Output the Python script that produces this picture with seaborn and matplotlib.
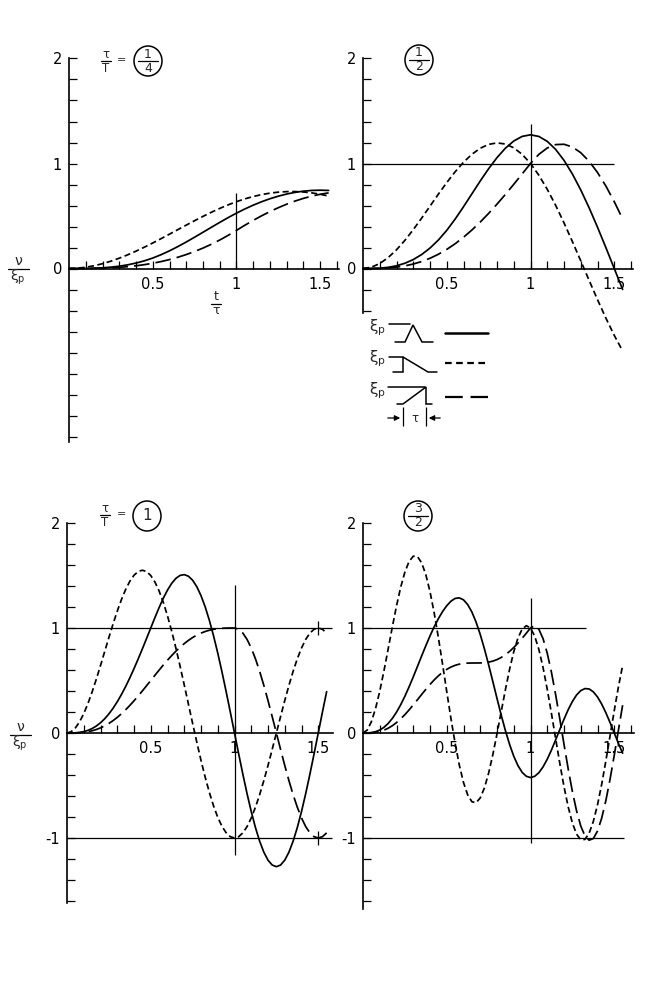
import numpy as np
import pandas as pd
import matplotlib
matplotlib.use("Agg")
import matplotlib.pyplot as plt
import seaborn as sns
from matplotlib.patches import Ellipse

sns.set_style("white")
plt.rcParams["font.family"] = ["DejaVu Sans"]
plt.rcParams["mathtext.fontset"] = "dejavusans"

# ---- data: response v/xi_p against t/tau ----
t_coarse = [0.00, 0.05, 0.10, 0.15, 0.20, 0.25, 0.30, 0.35, 0.40, 0.45,
            0.50, 0.55, 0.60, 0.65, 0.70, 0.75, 0.80, 0.85, 0.90, 0.95,
            1.00, 1.05, 1.10, 1.15, 1.20, 1.25, 1.30, 1.35, 1.40, 1.45,
            1.50, 1.55]
t_fine = [0.000, 0.025, 0.050, 0.075, 0.100, 0.125, 0.150, 0.175, 0.200, 0.225,
          0.250, 0.275, 0.300, 0.325, 0.350, 0.375, 0.400, 0.425, 0.450, 0.475,
          0.500, 0.525, 0.550, 0.575, 0.600, 0.625, 0.650, 0.675, 0.700, 0.725,
          0.750, 0.775, 0.800, 0.825, 0.850, 0.875, 0.900, 0.925, 0.950, 0.975,
          1.000, 1.025, 1.050, 1.075, 1.100, 1.125, 1.150, 1.175, 1.200, 1.225,
          1.250, 1.275, 1.300, 1.325, 1.350, 1.375, 1.400, 1.425, 1.450, 1.475,
          1.500, 1.525, 1.550]

# tau/T = 1/4
q_sym = [0, 0.0001, 0.0008, 0.0028, 0.0066, 0.0128, 0.0220, 0.0348, 0.0516, 0.0731,
         0.0997, 0.1316, 0.1683, 0.2089, 0.2524, 0.2982, 0.3452, 0.3925, 0.4392, 0.4845,
         0.5274, 0.5671, 0.6034, 0.6359, 0.6646, 0.6890, 0.7093, 0.7252, 0.7366, 0.7435,
         0.7458, 0.7435]
q_decay = [0, 0.0030, 0.0119, 0.0263, 0.0457, 0.0697, 0.0980, 0.1300, 0.1652, 0.2030,
           0.2430, 0.2846, 0.3272, 0.3703, 0.4132, 0.4555, 0.4964, 0.5356, 0.5723, 0.6062,
           0.6366, 0.6632, 0.6856, 0.7038, 0.7177, 0.7272, 0.7322, 0.7327, 0.7286, 0.7201,
           0.7071, 0.6898]
q_rise = [0, 0.0001, 0.0004, 0.0014, 0.0033, 0.0064, 0.0110, 0.0174, 0.0258, 0.0366,
          0.0499, 0.0659, 0.0850, 0.1072, 0.1328, 0.1619, 0.1946, 0.2310, 0.2712, 0.3154,
          0.3634, 0.4122, 0.4585, 0.5020, 0.5423, 0.5794, 0.6128, 0.6425, 0.6682, 0.6898,
          0.7071, 0.7201]

# tau/T = 1/2
h_sym = [0, 0.0004, 0.0033, 0.0110, 0.0258, 0.0498, 0.0850, 0.1328, 0.1945, 0.2712,
         0.3634, 0.4704, 0.5880, 0.7108, 0.8334, 0.9502, 1.0559, 1.1455, 1.2142, 1.2580,
         1.2732, 1.2576, 1.2109, 1.1345, 1.0301, 0.9003, 0.7484, 0.5780, 0.3935, 0.1992,
         0.0, -0.1992]
h_decay = [0, 0.0121, 0.0473, 0.1035, 0.1781, 0.2680, 0.3697, 0.4796, 0.5937, 0.7080,
           0.8183, 0.9208, 1.0118, 1.0876, 1.1453, 1.1822, 1.1961, 1.1855, 1.1494, 1.0875,
           1.0, 0.8881, 0.7543, 0.6020, 0.4348, 0.2570, 0.0728, -0.1132, -0.2964, -0.4724,
           -0.6366, -0.7852]
h_rise = [0, 0.0002, 0.0016, 0.0055, 0.0129, 0.0249, 0.0425, 0.0664, 0.0973, 0.1356,
          0.1817, 0.2356, 0.2973, 0.3664, 0.4425, 0.5249, 0.6129, 0.7055, 0.8016, 0.9002,
          1.0, 1.0873, 1.1478, 1.1800, 1.1832, 1.1573, 1.1028, 1.0212, 0.9145, 0.7852,
          0.6366, 0.4724]

# tau/T = 1
o_sym = [0, 0.0002, 0.0016, 0.0055, 0.0129, 0.0249, 0.0425, 0.0664, 0.0973, 0.1356,
         0.1817, 0.2356, 0.2973, 0.3664, 0.4425, 0.5249, 0.6129, 0.7055, 0.8016, 0.9002,
         1.0, 1.0994, 1.1951, 1.2835, 1.3613, 1.4252, 1.4726, 1.5009, 1.5082, 1.4932,
         1.4549, 1.3932, 1.3082, 1.2009, 1.0726, 0.9252, 0.7613, 0.5835, 0.3951, 0.1994,
         0.0, -0.1992, -0.3934, -0.5780, -0.7484, -0.9003, -1.0301, -1.1345, -1.2110, -1.2576,
         -1.2732, -1.2576, -1.2110, -1.1345, -1.0301, -0.9003, -0.7484, -0.5780, -0.3934, -0.1992,
         0.0, 0.1992, 0.3934]
o_decay = [0, 0.0122, 0.0481, 0.1062, 0.1845, 0.2804, 0.3910, 0.5128, 0.6424, 0.7758,
           0.9092, 1.0386, 1.1604, 1.2708, 1.3666, 1.4447, 1.5026, 1.5383, 1.5502, 1.5376,
           1.5, 1.4378, 1.3519, 1.2438, 1.1155, 0.9696, 0.8090, 0.6372, 0.4577, 0.2742,
           0.0909, -0.0886, -0.2604, -0.4208, -0.5666, -0.6947, -0.8026, -0.8883, -0.9502, -0.9876,
           -1.0, -0.9877, -0.9511, -0.8910, -0.8090, -0.7071, -0.5878, -0.4540, -0.3090, -0.1564,
           0.0, 0.1564, 0.3090, 0.4540, 0.5878, 0.7071, 0.8090, 0.8910, 0.9511, 0.9877,
           1.0, 0.9877, 0.9511]
o_rise = [0, 0.0001, 0.0008, 0.0028, 0.0065, 0.0125, 0.0212, 0.0332, 0.0486, 0.0678,
          0.0909, 0.1178, 0.1486, 0.1832, 0.2212, 0.2625, 0.3065, 0.3528, 0.4008, 0.4501,
          0.5, 0.5499, 0.5992, 0.6473, 0.6936, 0.7375, 0.7788, 0.8168, 0.8514, 0.8822,
          0.9092, 0.9322, 0.9514, 0.9668, 0.9788, 0.9875, 0.9936, 0.9973, 0.9992, 0.9999,
          1.0, 0.9877, 0.9511, 0.8910, 0.8090, 0.7071, 0.5878, 0.4540, 0.3090, 0.1564,
          0.0, -0.1564, -0.3090, -0.4540, -0.5878, -0.7071, -0.8090, -0.8910, -0.9511, -0.9877,
          -1.0, -0.9877, -0.9511]

# tau/T = 3/2
t_sym = [0, 0.0005, 0.0037, 0.0122, 0.0283, 0.0539, 0.0904, 0.1384, 0.1982, 0.2691,
         0.3499, 0.4391, 0.5344, 0.6334, 0.7332, 0.8312, 0.9247, 1.0114, 1.0891, 1.1563,
         1.2122, 1.2554, 1.2818, 1.2870, 1.2681, 1.2233, 1.1524, 1.0565, 0.9381, 0.8010,
         0.6501, 0.4908, 0.3293, 0.1717, 0.0240, -0.1085, -0.2212, -0.3105, -0.3745, -0.4122,
         -0.4244, -0.4127, -0.3782, -0.3227, -0.2495, -0.1624, -0.0664, 0.0333, 0.1312, 0.2218,
         0.3001, 0.3619, 0.4036, 0.4231, 0.4192, 0.3921, 0.3434, 0.2756, 0.1927, 0.0991,
         0.0, -0.0991, -0.1927]
t_decay = [0, 0.0274, 0.1072, 0.2335, 0.3981, 0.5904, 0.7984, 1.0092, 1.2099, 1.3880,
           1.5321, 1.6331, 1.6839, 1.6802, 1.6211, 1.5083, 1.3467, 1.1438, 0.9095, 0.6553,
           0.3939, 0.1384, -0.0985, -0.3051, -0.4714, -0.5895, -0.6543, -0.6636, -0.6183, -0.5222,
           -0.3821, -0.2070, -0.0081, 0.2023, 0.4112, 0.6057, 0.7736, 0.9043, 0.9892, 1.0221,
           1.0, 0.9228, 0.7947, 0.6226, 0.4161, 0.1866, -0.0532, -0.2900, -0.5108, -0.7034,
           -0.8572, -0.9635, -1.0166, -1.0136, -0.9545, -0.8427, -0.6843, -0.4881, -0.2649, -0.0271,
           0.2122, 0.4398, 0.6431]
t_rise = [0, 0.0002, 0.0018, 0.0061, 0.0142, 0.0270, 0.0452, 0.0692, 0.0991, 0.1345,
          0.1750, 0.2196, 0.2672, 0.3167, 0.3666, 0.4156, 0.4624, 0.5057, 0.5445, 0.5782,
          0.6061, 0.6282, 0.6445, 0.6557, 0.6624, 0.6656, 0.6666, 0.6667, 0.6672, 0.6696,
          0.6750, 0.6845, 0.6991, 0.7192, 0.7452, 0.7770, 0.8142, 0.8561, 0.9018, 0.9502,
          1.0, 1.0219, 0.9874, 0.8982, 0.7595, 0.5787, 0.3660, 0.1331, -0.1072, -0.3416,
          -0.5571, -0.7418, -0.8855, -0.9803, -1.0209, -1.0051, -0.9338, -0.8108, -0.6431, -0.4398,
          -0.2122, 0.0271, 0.2649]

x_labels = ["0.5", "1", "1.5"]

W, H = 649, 983
XS, YS = 167.5, 105.0   # pixels per unit on the x and y axes

fig = plt.figure(figsize=(W / 100, H / 100), dpi=100)

# overlay in pixel space for lettering and the key
key = fig.add_axes([0, 0, 1, 1], zorder=10)
key.set_xlim(0, W)
key.set_ylim(H, 0)
key.axis("off")
key.patch.set_alpha(0)

DASHES = {"sym": "", "decay": (3.5, 2.0), "rise": (9.0, 3.5)}
XI_P = r"$\mathregular{ξ_p}$"


def frac(x, y, top, bottom, size=9, bar=10, gap=7):
    key.text(x, y - gap, top, fontsize=size, ha="center", va="center")
    key.plot([x - bar / 2, x + bar / 2], [y, y], color="k", lw=0.9)
    key.text(x, y + gap, bottom, fontsize=size, ha="center", va="center")


def ring(x, y, w=28, h=30):
    key.add_patch(Ellipse((x, y), w, h, fill=False, lw=1.1, color="k"))


def make_panel(x0, y0, tt, sym, decay, rise, ybot, xend, yticks):
    xl, yl = (-0.06, 1.72), (-1.75, 2.15)
    left = x0 + xl[0] * XS
    top = y0 - yl[1] * YS
    w = (xl[1] - xl[0]) * XS
    h = (yl[1] - yl[0]) * YS
    ax = fig.add_axes([left / W, 1 - (top + h) / H, w / W, h / H])
    ax.patch.set_alpha(0)

    n = len(tt)
    df = pd.DataFrame({"s": tt * 3, "v": sym + decay + rise,
                       "pulse": ["sym"] * n + ["decay"] * n + ["rise"] * n})
    sns.lineplot(data=df, x="s", y="v", style="pulse", dashes=DASHES, color="black",
                 linewidth=1.25, legend=False, errorbar=None, ax=ax)
    ax.set_xlabel("")
    ax.set_ylabel("")
    ax.set_xlim(xl)
    ax.set_ylim(yl)

    for sp in ["top", "right"]:
        ax.spines[sp].set_visible(False)
    ax.spines["left"].set_position(("data", 0))
    ax.spines["bottom"].set_position(("data", 0))
    ax.spines["left"].set_bounds(ybot, 2.0)
    ax.spines["bottom"].set_bounds(0, xend)
    for sp in ["left", "bottom"]:
        ax.spines[sp].set_linewidth(1.2)
        ax.spines[sp].set_color("k")

    ax.set_xticks([0.5, 1.0, 1.5])
    ax.set_xticklabels(x_labels)
    ax.set_xticks([m / 10 for m in range(1, 17) if m / 10 <= xend + 1e-9], minor=True)
    ax.set_yticks(yticks)
    ax.set_yticklabels([str(v) for v in yticks])
    ax.set_yticks([m / 5 for m in range(-8, 11) if m / 5 >= ybot - 1e-9], minor=True)
    ax.tick_params(axis="both", which="both", direction="in", length=6, width=0.9,
                   color="k", labelsize=10.5, labelcolor="k", bottom=True, left=True)
    ax.tick_params(axis="x", pad=6)
    ax.tick_params(axis="y", pad=5)
    return ax


# ---- panel tau/T = 1/4 ----
ax1 = make_panel(69, 268.5, t_coarse, q_sym, q_decay, q_rise, -1.65, 1.61, [0, 1, 2])
ax1.vlines(1.0, 0, 0.72, color="k", lw=0.9)
frac(106, 61, "τ", "T", size=8.5, bar=10)
key.text(122, 60, "=", fontsize=8, ha="center", va="center")
ring(148, 61)
frac(148, 61, "1", "4", size=9, bar=20)
frac(18, 269, "ν", XI_P, size=10, bar=21, gap=8)
frac(216, 304, "t", "τ", size=9, bar=10)

# ---- panel tau/T = 1/2 ----
ax2 = make_panel(363, 268.5, t_coarse, h_sym, h_decay, h_rise, -0.42, 1.61, [0, 1, 2])
ax2.hlines(1.0, 0, 1.5, color="k", lw=0.9)
ax2.vlines(1.0, 0, 1.38, color="k", lw=0.9)
ring(419, 60)
frac(419, 60, "1", "2", size=9, bar=20)

# ---- panel tau/T = 1 ----
ax3 = make_panel(67, 733, t_fine, o_sym, o_decay, o_rise, -1.62, 1.59, [-1, 0, 1, 2])
ax3.hlines([1.0, -1.0], 0, 1.58, color="k", lw=0.9)
ax3.vlines(1.0, -1.16, 1.41, color="k", lw=0.9)
ax3.vlines(1.5, 0.93, 1.07, color="k", lw=0.9)
ax3.vlines(1.5, -1.07, -0.93, color="k", lw=0.9)
frac(105, 515, "τ", "T", size=8.5, bar=10)
key.text(122, 514, "=", fontsize=8, ha="center", va="center")
ring(147, 516)
key.text(147, 516, "1", fontsize=11, ha="center", va="center")
frac(20, 735, "ν", XI_P, size=10, bar=21, gap=8)

# ---- panel tau/T = 3/2 ----
ax4 = make_panel(363, 733, t_fine, t_sym, t_decay, t_rise, -1.68, 1.62, [-1, 0, 1, 2])
ax4.hlines(1.0, 0, 1.33, color="k", lw=0.9)
ax4.hlines(-1.0, 0, 1.56, color="k", lw=0.9)
ax4.vlines(1.0, -1.05, 1.29, color="k", lw=0.9)
ring(418, 516)
frac(418, 516, "3", "2", size=9, bar=20)

# ---- key: pulse shapes and line styles ----
kw = dict(color="k", lw=1.1, solid_joinstyle="miter")
for yy in (328, 359, 391):
    key.text(377, yy, XI_P, fontsize=11, ha="center", va="center")
# symmetric triangle
key.plot([389, 410], [324, 324], **kw)
key.plot([395, 405, 413, 422, 433], [342, 342, 325, 342, 342], **kw)
key.plot([445, 488], [333, 333], color="k", lw=1.8)
# decaying triangle
key.plot([389, 403], [357, 357], **kw)
key.plot([393, 403, 403, 428, 437], [372, 372, 357, 372, 372], **kw)
key.plot([445, 488], [363, 363], color="k", lw=1.6, dashes=(3.0, 2.0))
# rising triangle
key.plot([388, 425], [387, 387], **kw)
key.plot([397, 403, 426, 426, 432], [404, 404, 387, 404, 404], **kw)
key.plot([445, 488], [397, 397], color="k", lw=1.6, dashes=(8.0, 3.5))
# tau dimension
key.vlines([403, 426], 407, 426, color="k", lw=0.9)
ap = dict(arrowstyle="-|>", color="k", lw=0.9, mutation_scale=8)
key.annotate("", xy=(403, 418), xytext=(385, 418), arrowprops=ap)
key.annotate("", xy=(426, 418), xytext=(443, 418), arrowprops=ap)
key.text(414.5, 419, "τ", fontsize=8.5, ha="center", va="center")

fig.savefig("out.png", dpi=100)
